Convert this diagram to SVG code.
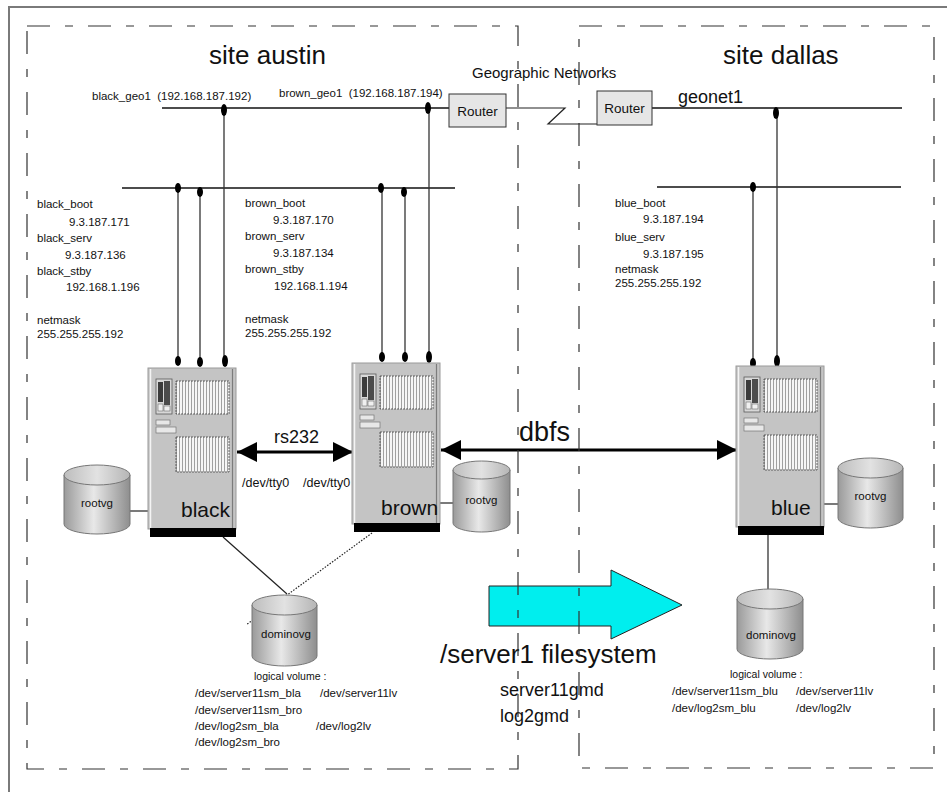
<svg xmlns="http://www.w3.org/2000/svg" xmlns:xlink="http://www.w3.org/1999/xlink" width="947" height="792" viewBox="0 0 947 792">
  <style>
    text { font-family: "Liberation Sans", Arial, Helvetica, sans-serif; fill: #111; }
    .t11 { font-size: 11.5px; }
    .t10 { font-size: 10.5px; }
    .site { font-size: 26px; }
    .srv { font-size: 21px; }
    .net { stroke: #111; stroke-width: 1.5; fill: none; }
    .drop { stroke: #333; stroke-width: 1.3; fill: none; }
    .dot { fill: #000; }
    .frame { stroke: #7a7a7a; stroke-width: 2; fill: none; }
    .site-box { stroke: #333; stroke-width: 1.2; fill: none; stroke-dasharray: 23 15 8 15; }
    .router rect { fill: #e6e6e6; stroke: #333; stroke-width: 1; }
    .cyl-body { fill: url(#cylShade); stroke: #777; stroke-width: 1; }
    .cyl-top { fill: url(#cylTop); stroke: #777; stroke-width: 1; }
    .link { stroke: #222; stroke-width: 1.2; fill: none; }
    .heavy { stroke: #000; stroke-width: 3; fill: none; marker-start: url(#bigHead); marker-end: url(#bigHead); }
  </style>
  <defs>
    <linearGradient id="cylShade" x1="0" y1="0" x2="1" y2="0">
      <stop offset="0" stop-color="#9a9a9a"/>
      <stop offset="0.45" stop-color="#e8e8e8"/>
      <stop offset="1" stop-color="#8e8e8e"/>
    </linearGradient>
    <linearGradient id="cylTop" x1="0" y1="0" x2="1" y2="0">
      <stop offset="0" stop-color="#bdbdbd"/>
      <stop offset="0.5" stop-color="#e2e2e2"/>
      <stop offset="1" stop-color="#b5b5b5"/>
    </linearGradient>
    <pattern id="grille" patternUnits="userSpaceOnUse" width="3" height="12">
      <rect width="3" height="12" fill="#f6f6f6"/>
      <line x1="1.5" y1="0" x2="1.5" y2="12" stroke="#8a8a8a" stroke-width="0.8"/>
    </pattern>
    <marker id="bigHead" viewBox="0 0 20 20" refX="20" refY="10" markerWidth="20" markerHeight="20" markerUnits="userSpaceOnUse" orient="auto-start-reverse">
      <path d="M0,0 L20,10 L0,20 Z" fill="#000"/>
    </marker>
    <!-- tower server cabinet, 88 wide, black plinth at the bottom -->
    <g id="server-unit">
      <rect x="0" y="0" width="88" height="161" fill="#c4c4c4" stroke="#9a9a9a" stroke-width="1"/>
      <line x1="2.5" y1="1" x2="2.5" y2="160" stroke="#f4f4f4" stroke-width="1.5"/>
      <line x1="84.5" y1="1" x2="84.5" y2="160" stroke="#7c7c7c" stroke-width="1.2"/>
      <rect x="8" y="11" width="16" height="35" fill="#d8d8d8" stroke="#5a5a5a" stroke-width="0.8"/>
      <rect x="10" y="14" width="5" height="20" fill="#3c3c3c"/>
      <rect x="16" y="13" width="6" height="24" fill="#4c4c4c"/>
      <rect x="10" y="36" width="5" height="7" fill="#f0f0f0" stroke="#555" stroke-width="0.5"/>
      <rect x="16" y="38" width="6" height="5" fill="#f0f0f0" stroke="#555" stroke-width="0.5"/>
      <rect x="28" y="13" width="53" height="33" fill="url(#grille)" stroke="#444" stroke-width="0.8" stroke-dasharray="2 1"/>
      <rect x="8" y="52" width="14" height="5" fill="#e8e8e8" stroke="#777" stroke-width="0.7"/>
      <rect x="8" y="59" width="20" height="6" fill="#e8e8e8" stroke="#777" stroke-width="0.7"/>
      <rect x="28" y="69" width="53" height="35" fill="url(#grille)" stroke="#444" stroke-width="0.8" stroke-dasharray="2 1"/>
      <rect x="2" y="160" width="86" height="9" fill="#000"/>
    </g>
  </defs>

  <rect width="947" height="792" fill="#fff"/>

  <!-- page frame -->
  <path class="frame" d="M9,792 V7 H947"/>

  <!-- titles -->
  <g id="titles">
    <text class="site" x="209" y="64">site austin</text>
    <text class="site" x="723" y="64">site dallas</text>
    <text x="472" y="78" font-size="15">Geographic Networks</text>
    <text x="678" y="103" font-size="18">geonet1</text>
  </g>

  <!-- network segments, drops and cables -->
  <g id="connectors">
    <line class="net" x1="162" y1="108" x2="449" y2="108"/>
    <line class="net" x1="122" y1="188" x2="455" y2="188"/>
    <line class="net" x1="652" y1="108" x2="902" y2="108"/>
    <line class="net" x1="657" y1="187" x2="901" y2="187"/>
    <polyline class="link" points="506,108 565,108 548,124 597,124"/>

    <line class="drop" x1="178" y1="188" x2="178" y2="362"/>
    <line class="drop" x1="200" y1="192" x2="200" y2="362"/>
    <line class="drop" x1="224" y1="110" x2="224" y2="362"/>
    <line class="drop" x1="382" y1="188" x2="382" y2="358"/>
    <line class="drop" x1="405" y1="192" x2="405" y2="358"/>
    <line class="drop" x1="429" y1="108" x2="429" y2="358"/>
    <line class="drop" x1="753" y1="187" x2="753" y2="364"/>
    <line class="drop" x1="777" y1="113" x2="777" y2="362"/>

    <ellipse class="dot" cx="224" cy="110" rx="3" ry="6"/>
    <ellipse class="dot" cx="428" cy="108" rx="3" ry="6"/>
    <ellipse class="dot" cx="776" cy="113" rx="3" ry="6"/>
    <ellipse class="dot" cx="178" cy="188" rx="3" ry="5"/>
    <ellipse class="dot" cx="200" cy="192" rx="3" ry="5"/>
    <ellipse class="dot" cx="381" cy="188" rx="3" ry="5"/>
    <ellipse class="dot" cx="404" cy="192" rx="3" ry="5"/>
    <ellipse class="dot" cx="753" cy="187" rx="3" ry="5"/>
    <ellipse class="dot" cx="178" cy="361" rx="3" ry="5"/>
    <ellipse class="dot" cx="200" cy="362" rx="3" ry="5"/>
    <ellipse class="dot" cx="225" cy="361" rx="3" ry="6"/>
    <ellipse class="dot" cx="382" cy="357" rx="3" ry="5"/>
    <ellipse class="dot" cx="405" cy="357" rx="3" ry="5"/>
    <ellipse class="dot" cx="429" cy="357" rx="3" ry="6"/>
    <ellipse class="dot" cx="753" cy="363" rx="3" ry="5"/>
    <ellipse class="dot" cx="777" cy="361" rx="3" ry="6"/>

    <line class="link" x1="130" y1="511" x2="148" y2="511"/>
    <line class="link" x1="437" y1="503" x2="455" y2="503"/>
    <line class="link" x1="823" y1="504" x2="838" y2="504"/>
    <line class="link" x1="223" y1="537" x2="287" y2="594"/>
    <line class="link" x1="372" y1="533" x2="246" y2="625" stroke-dasharray="1.5 1.5" stroke-width="1"/>
    <line class="link" x1="768" y1="534" x2="768" y2="589"/>

    <line class="heavy" x1="237" y1="452" x2="353" y2="452"/>
    <line class="heavy" x1="441" y1="450" x2="737" y2="450"/>
  </g>

  <!-- routers -->
  <g id="router-austin" class="router">
    <rect x="449" y="94" width="57" height="33"/>
    <text x="477.5" y="115.5" font-size="13.5" text-anchor="middle">Router</text>
  </g>
  <g id="router-dallas" class="router">
    <rect x="597" y="91" width="55" height="34"/>
    <text x="624.5" y="112.5" font-size="13.5" text-anchor="middle">Router</text>
  </g>

  <!-- interface labels -->
  <g id="labels-black" class="t11">
    <text x="92" y="100" xml:space="preserve">black_geo1  (192.168.187.192)</text>
    <text x="37" y="208">black_boot</text>
    <text x="69" y="226">9.3.187.171</text>
    <text x="37" y="242">black_serv</text>
    <text x="65" y="259">9.3.187.136</text>
    <text x="37" y="275">black_stby</text>
    <text x="66" y="291">192.168.1.196</text>
    <text x="37" y="324">netmask</text>
    <text x="37" y="338">255.255.255.192</text>
  </g>
  <g id="labels-brown" class="t11">
    <text x="279" y="97" xml:space="preserve">brown_geo1  (192.168.187.194)</text>
    <text x="245" y="207">brown_boot</text>
    <text x="273" y="224">9.3.187.170</text>
    <text x="245" y="240">brown_serv</text>
    <text x="273" y="257">9.3.187.134</text>
    <text x="245" y="273">brown_stby</text>
    <text x="274" y="290">192.168.1.194</text>
    <text x="245" y="323">netmask</text>
    <text x="245" y="337">255.255.255.192</text>
  </g>
  <g id="labels-blue" class="t11">
    <text x="615" y="207">blue_boot</text>
    <text x="643" y="223">9.3.187.194</text>
    <text x="615" y="241">blue_serv</text>
    <text x="643" y="258">9.3.187.195</text>
    <text x="615" y="273">netmask</text>
    <text x="615" y="287">255.255.255.192</text>
  </g>

  <!-- servers -->
  <g id="server-black">
    <use xlink:href="#server-unit" x="148" y="368"/>
    <text class="srv" x="181" y="517">black</text>
  </g>
  <g id="server-brown">
    <use xlink:href="#server-unit" x="352" y="363"/>
    <text class="srv" x="381" y="515">brown</text>
  </g>
  <g id="server-blue">
    <use xlink:href="#server-unit" x="736" y="366"/>
    <text class="srv" x="771" y="515">blue</text>
  </g>

  <!-- link labels -->
  <g id="link-labels">
    <text x="274" y="443" font-size="18">rs232</text>
    <text x="242" y="487" font-size="12.5">/dev/tty0</text>
    <text x="303" y="487" font-size="12.5">/dev/tty0</text>
    <text x="519" y="441" font-size="27">dbfs</text>
  </g>

  <!-- disks -->
  <g id="rootvg-black">
    <path class="cyl-body" d="M64,475 V524 A33,10 0 0 0 130,524 V475 Z"/>
    <ellipse class="cyl-top" cx="97" cy="475" rx="33" ry="10"/>
    <text class="t11" x="97" y="507" text-anchor="middle">rootvg</text>
  </g>
  <g id="rootvg-brown">
    <path class="cyl-body" d="M453,470 V523 A28.5,9 0 0 0 510,523 V470 Z"/>
    <ellipse class="cyl-top" cx="481.5" cy="470" rx="28.5" ry="9"/>
    <text class="t11" x="481.5" y="504" text-anchor="middle">rootvg</text>
  </g>
  <g id="rootvg-blue">
    <path class="cyl-body" d="M838,468 V518 A32.5,10 0 0 0 903,518 V468 Z"/>
    <ellipse class="cyl-top" cx="870.5" cy="468" rx="32.5" ry="10"/>
    <text class="t11" x="870.5" y="500" text-anchor="middle">rootvg</text>
  </g>
  <g id="dominovg-austin">
    <path class="cyl-body" d="M252,605 V656 A32.5,10 0 0 0 317,656 V605 Z"/>
    <ellipse class="cyl-top" cx="284.5" cy="605" rx="32.5" ry="10"/>
    <text class="t11" x="286" y="638" text-anchor="middle">dominovg</text>
  </g>
  <g id="dominovg-dallas">
    <path class="cyl-body" d="M737,599 V649 A33,10 0 0 0 803,649 V599 Z"/>
    <ellipse class="cyl-top" cx="770" cy="599" rx="33" ry="10"/>
    <text class="t11" x="771" y="639" text-anchor="middle">dominovg</text>
  </g>

  <!-- logical volume lists -->
  <g id="lv-austin">
    <text class="t10" x="254" y="680">logical volume :</text>
    <text class="t11" x="195" y="697">/dev/server11sm_bla</text>
    <text class="t11" x="320" y="697">/dev/server11lv</text>
    <text class="t11" x="195" y="714">/dev/server11sm_bro</text>
    <text class="t11" x="195" y="730">/dev/log2sm_bla</text>
    <text class="t11" x="316" y="730">/dev/log2lv</text>
    <text class="t11" x="195" y="746">/dev/log2sm_bro</text>
  </g>
  <g id="lv-dallas">
    <text class="t10" x="730" y="678">logical volume :</text>
    <text class="t11" x="672" y="695">/dev/server11sm_blu</text>
    <text class="t11" x="796" y="695">/dev/server11lv</text>
    <text class="t11" x="672" y="712">/dev/log2sm_blu</text>
    <text class="t11" x="796" y="712">/dev/log2lv</text>
  </g>

  <!-- filesystem replication -->
  <g id="replication">
    <polygon points="489,586 611,586 611,570 682,605 611,639 611,626 489,626" fill="#00eeee" stroke="#222" stroke-width="1"/>
    <text x="440" y="663" font-size="26">/server1 filesystem</text>
    <text x="500" y="696" font-size="18">server11gmd</text>
    <text x="500" y="722" font-size="18">log2gmd</text>
  </g>

  <!-- site boundaries -->
  <g id="sites">
    <rect class="site-box" x="27" y="26" width="491" height="743"/>
    <rect class="site-box" x="579" y="26" width="355" height="742"/>
  </g>
</svg>
